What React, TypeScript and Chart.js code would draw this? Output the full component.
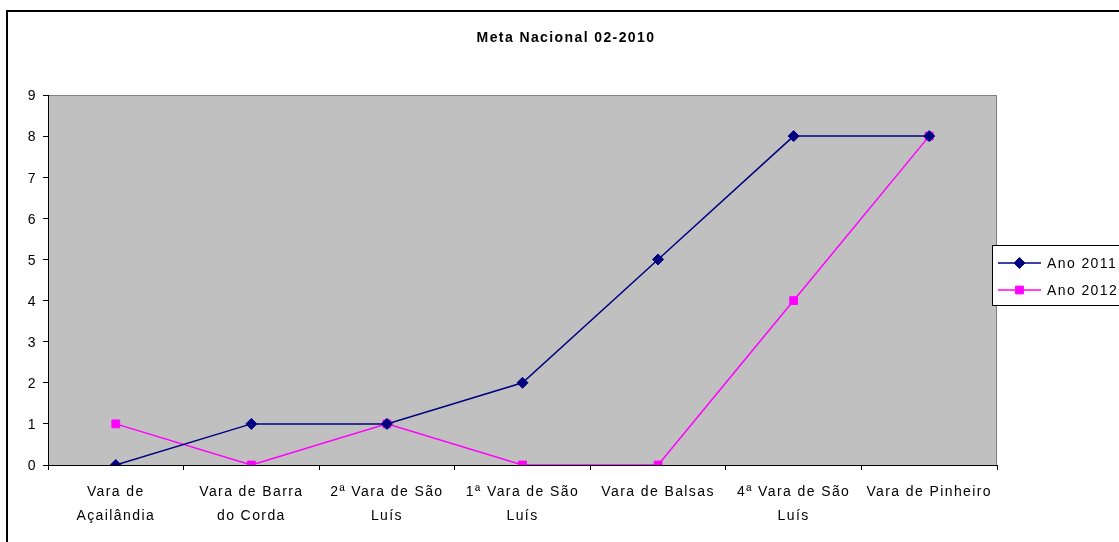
import React, { useEffect, useRef } from 'react';
import { Chart, registerables } from 'chart.js';
import { drawPoint } from 'chart.js/helpers';
Chart.register(...registerables);

const titleText = 'Meta Nacional 02-2010';
const categories: (string | string[])[] = [
  ['Vara de', 'Açailândia'],
  ['Vara de Barra', 'do Corda'],
  ['2ª Vara de São', 'Luís'],
  ['1ª Vara de São', 'Luís'],
  'Vara de Balsas',
  ['4ª Vara de São', 'Luís'],
  'Vara de Pinheiro',
];
const seriesNames = ['Ano 2011', 'Ano 2012'];
const ano2011 = [0, 1, 1, 2, 5, 8, 8];
const ano2012 = [1, 0, 1, 0, 0, 4, 8];
const yMin = 0;
const yMax = 9;
const yStep = 1;

const FONT = "'Liberation Sans', Arial, Helvetica, sans-serif";
const LS = '1.4px';

const decor = {
  id: 'decor',
  beforeUpdate(chart: any) { chart.ctx.letterSpacing = LS; },
  beforeLayout(chart: any) { chart.ctx.letterSpacing = LS; },
  beforeDraw(chart: any) {
    const ctx = chart.ctx;
    ctx.letterSpacing = LS;
    const { left, top, right, bottom } = chart.chartArea;
    ctx.save();
    ctx.fillStyle = '#C0C0C0';
    ctx.fillRect(left, top, right - left, bottom - top);
    ctx.strokeStyle = '#808080';
    ctx.lineWidth = 1;
    ctx.beginPath();
    ctx.moveTo(left, top + 0.5);
    ctx.lineTo(right - 0.5, top + 0.5);
    ctx.lineTo(right - 0.5, bottom);
    ctx.stroke();
    ctx.restore();
  },
  afterDraw(chart: any) {
    const ctx = chart.ctx;
    ctx.save();
    ctx.letterSpacing = LS;
    // outer border
    ctx.strokeStyle = '#000';
    ctx.lineWidth = 2;
    ctx.strokeRect(7, 11, 1200, 1000);
    // legend
    const bx = 992.5, by = 245.5;
    ctx.fillStyle = '#fff';
    ctx.fillRect(bx, by, 200, 60);
    ctx.strokeStyle = '#000';
    ctx.lineWidth = 1;
    ctx.strokeRect(bx, by, 200, 60);
    const ys = [263, 290];
    chart.data.datasets.forEach((ds: any, i: number) => {
      const y = ys[i];
      ctx.strokeStyle = ds.borderColor;
      ctx.lineWidth = 1.5;
      ctx.beginPath();
      ctx.moveTo(998, y);
      ctx.lineTo(1041, y);
      ctx.stroke();
      ctx.fillStyle = ds.backgroundColor;
      ctx.strokeStyle = ds.borderColor;
      ctx.lineWidth = 1;
      drawPoint(ctx, { pointStyle: ds.pointStyle, radius: ds.pointRadius, rotation: 0, borderWidth: 1 }, 1019.5, y);
      ctx.fillStyle = '#000';
      ctx.font = `14px ${FONT}`;
      ctx.textAlign = 'left';
      ctx.textBaseline = 'middle';
      ctx.fillText(ds.label, 1047, y + 1);
    });
    ctx.restore();
  },
};

export default function App() {
  const ref = useRef<HTMLCanvasElement>(null);
  useEffect(() => {
    if (!ref.current) return;
    const chart = new Chart(ref.current, {
      type: 'line',
      data: {
        labels: categories as any,
        datasets: [
          {
            label: seriesNames[0],
            data: ano2011,
            borderColor: '#000080',
            backgroundColor: '#000080',
            borderWidth: 1.5,
            pointStyle: 'rectRot',
            pointRadius: 5.5,
            pointBorderWidth: 1,
            tension: 0,
          },
          {
            label: seriesNames[1],
            data: ano2012,
            borderColor: '#FF00FF',
            backgroundColor: '#FF00FF',
            borderWidth: 1.5,
            pointStyle: 'rect',
            pointRadius: 5.5,
            pointBorderWidth: 1,
            tension: 0,
          },
        ],
      },
      options: {
        animation: false,
        responsive: false,
        devicePixelRatio: 1,
        layout: { padding: { left: 13, right: 0, top: 0, bottom: 0 } },
        plugins: {
          legend: { display: false },
          tooltip: { enabled: false },
          title: {
            display: true,
            text: titleText,
            color: '#000',
            font: { family: FONT, size: 14, weight: 'bold' },
            padding: { top: 29.6, bottom: 48.6 },
          },
        },
        scales: {
          x: {
            offset: true,
            grid: { offset: true, drawOnChartArea: false, drawTicks: true, tickLength: 5, color: '#000' },
            border: { display: true, color: '#000', width: 1 },
            ticks: {
              color: '#000',
              font: { family: FONT, size: 14, lineHeight: 24 / 14 },
              padding: 10,
              maxRotation: 0,
              autoSkip: false,
            },
            afterFit(s: any) { s.height = 77; },
          },
          y: {
            min: yMin,
            max: yMax,
            ticks: { stepSize: yStep, color: '#000', font: { family: FONT, size: 14 }, padding: 6, labelOffset: 1.5 },
            grid: { drawOnChartArea: false, drawTicks: true, tickLength: 5, color: '#000' },
            border: { display: true, color: '#000', width: 1 },
            afterFit(s: any) { s.width = 35; },
          },
          y2: {
            position: 'right',
            display: true,
            ticks: { display: false },
            grid: { display: false, drawTicks: false },
            border: { display: false },
            afterFit(s: any) { s.width = 122; },
          },
        },
      },
      plugins: [decor],
    } as any);
    return () => chart.destroy();
  }, []);
  return (
    <div style={{ position: 'fixed', left: 0, top: 0, width: 1119, height: 542 }}>
      <canvas ref={ref} width={1119} height={542} style={{ width: 1119, height: 542, display: 'block' }} />
    </div>
  );
}
